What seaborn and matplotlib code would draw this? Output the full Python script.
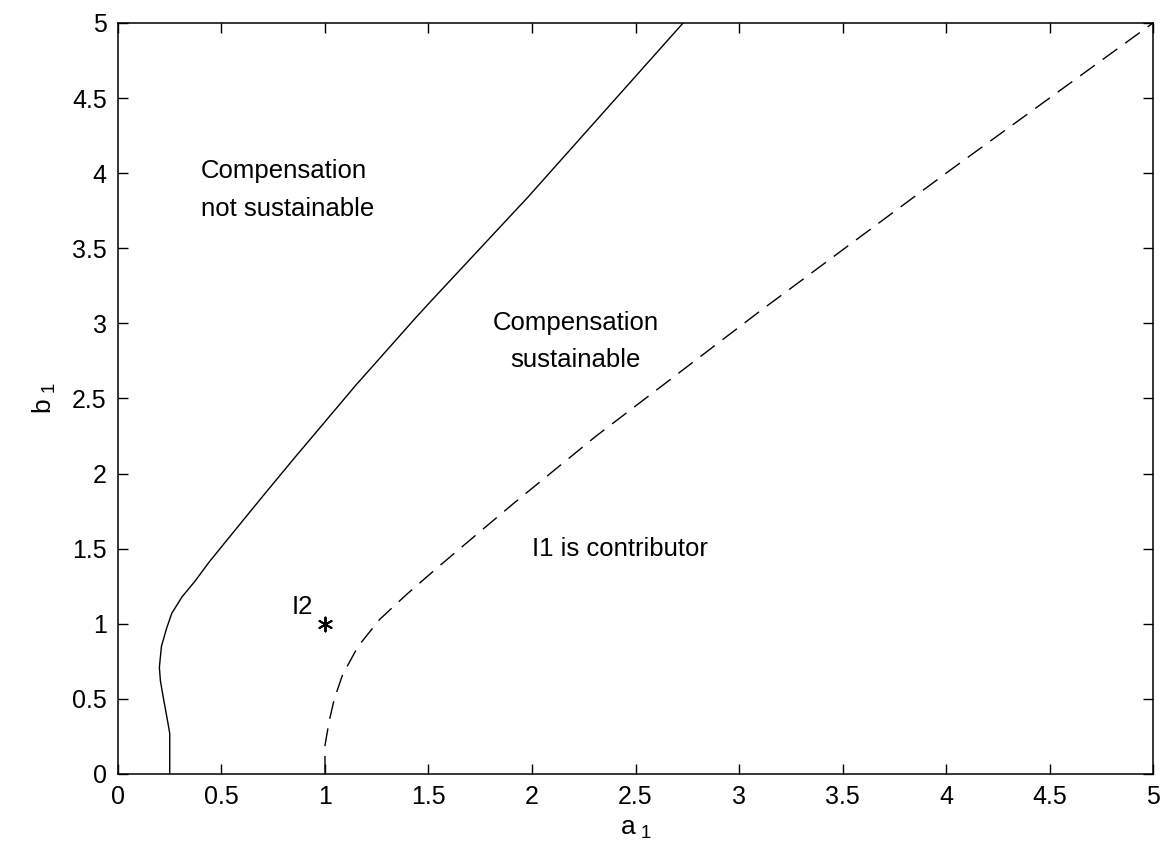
import matplotlib
matplotlib.use("Agg")
import matplotlib.pyplot as plt
import seaborn as sns
import pandas as pd

# Boundary between "not sustainable" and "sustainable" (solid)
solid_a = [0.25, 0.25, 0.24, 0.22, 0.205, 0.20, 0.21, 0.235, 0.26, 0.31, 0.37, 0.44,
           0.54, 0.70, 0.85, 1.15, 1.44, 1.52, 1.98, 2.73]
solid_b = [0.00, 0.27, 0.35, 0.50, 0.62, 0.71, 0.85, 0.97, 1.07, 1.18, 1.28, 1.41,
           1.58, 1.85, 2.10, 2.59, 3.04, 3.16, 3.84, 5.00]

# Boundary of "I1 is contributor" region (dashed)
dashed_a = [1.00, 1.00, 1.02, 1.045, 1.085, 1.16, 1.265, 1.39, 1.54, 1.72, 1.91, 2.31, 3.10, 4.02, 5.00]
dashed_b = [0.00, 0.19, 0.35, 0.50, 0.66, 0.85, 1.03, 1.19, 1.37, 1.58, 1.80, 2.25, 3.08, 4.02, 5.00]

point_a = [1.0]
point_b = [1.0]

ticks = [0, 0.5, 1, 1.5, 2, 2.5, 3, 3.5, 4, 4.5, 5]
tick_labels = ["0", "0.5", "1", "1.5", "2", "2.5", "3", "3.5", "4", "4.5", "5"]

sns.set_style("ticks")
plt.rcParams['font.family'] = ['Liberation Sans', 'DejaVu Sans']
plt.rcParams['mathtext.fontset'] = 'custom'
plt.rcParams['mathtext.rm'] = 'Liberation Sans'
plt.rcParams['mathtext.it'] = 'Liberation Sans'
plt.rcParams['text.color'] = 'black'
plt.rcParams['axes.labelcolor'] = 'black'

fig = plt.figure(figsize=(11.6, 8.57), dpi=100)
ax = fig.add_axes([0.1017, 0.0969, 0.8923, 0.8763])

df_solid = pd.DataFrame({"a": solid_a, "b": solid_b})
df_dash = pd.DataFrame({"a": dashed_a, "b": dashed_b})
df_pt = pd.DataFrame({"a": point_a, "b": point_b})

sns.lineplot(data=df_solid, x="a", y="b", sort=False, estimator=None, ax=ax,
             color="black", linewidth=1.0)
sns.lineplot(data=df_dash, x="a", y="b", sort=False, estimator=None, ax=ax,
             color="black", linewidth=1.0)
ax.lines[-1].set_linestyle((0, (13, 7)))
sns.scatterplot(data=df_pt, x="a", y="b", ax=ax, marker=(6, 2, 0), s=100,
                color="black", linewidth=1.4)

ax.set_xlim(0, 5)
ax.set_ylim(0, 5)
ax.set_xticks(ticks)
ax.set_xticklabels(tick_labels)
ax.set_yticks(ticks)
ax.set_yticklabels(tick_labels)
ax.tick_params(direction="in", top=True, right=True, length=7, width=1,
               labelsize=18, colors="black", pad=8)
for sp in ax.spines.values():
    sp.set_visible(True)
    sp.set_linewidth(1.1)
    sp.set_color("black")

ax.set_xlabel(r"a$_{\ 1}$", fontsize=19, labelpad=6, color="black")
ax.set_ylabel(r"b$_{\ 1}$", fontsize=19, labelpad=10, color="black")

ax.text(0.40, 3.89, "Compensation\nnot sustainable", fontsize=18.5, ha="left",
        va="center", linespacing=1.75, color="black")
ax.text(2.21, 2.88, "Compensation\nsustainable", fontsize=18.5, ha="center",
        va="center", linespacing=1.7, color="black")
ax.text(2.0, 1.50, "I1 is contributor", fontsize=18.5, ha="left", va="center",
        color="black")
ax.text(0.84, 1.11, "I2", fontsize=18.5, ha="left", va="center", color="black")

fig.savefig("out.png", dpi=100)
